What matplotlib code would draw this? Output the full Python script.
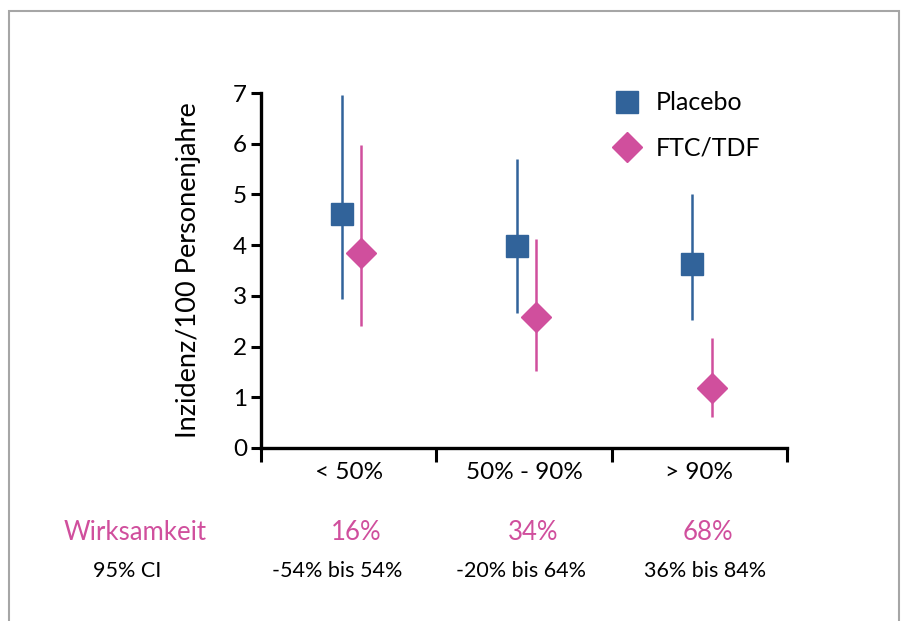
import numpy as np
import matplotlib.pyplot as plt
from matplotlib.patches import Rectangle

plt.rcParams['font.family'] = ['Lato', 'DejaVu Sans']

# Daten
kategorien = ["< 50%", "50% - 90%", "> 90%"]
placebo = [4.62, 3.99, 3.62]
placebo_low = [2.94, 2.66, 2.52]
placebo_high = [6.96, 5.70, 5.01]
ftc = [3.84, 2.58, 1.18]
ftc_low = [2.41, 1.52, 0.62]
ftc_high = [5.98, 4.13, 2.16]
wirksamkeit = ["16%", "34%", "68%"]
ci_texte = ["-54% bis 54%", "-20% bis 64%", "36% bis 84%"]

blau = "#31639a"
pink = "#d04f9d"

W, H = 903, 621
fig = plt.figure(figsize=(W / 100, H / 100), dpi=100)
ax = fig.add_axes([261 / W, 1 - 448 / H, (787 - 261) / W, (448 - 93) / H])

# grauer Rahmen
fig.patches.append(Rectangle((9 / W, -0.02), (899 - 9) / W, 1.02 - 11 / H,
                             transform=fig.transFigure, fill=False,
                             edgecolor="#a6a6a6", linewidth=1.5))

mitte = np.arange(len(kategorien)) + 0.5
x_pl = mitte - 0.04
x_ftc = mitte + 0.07

p = np.array(placebo)
f = np.array(ftc)
ax.errorbar(x_pl, p, yerr=[p - np.array(placebo_low), np.array(placebo_high) - p],
            fmt="s", color=blau, ms=15.5, elinewidth=1.8, capsize=0, clip_on=False,
            label="Placebo")
ax.errorbar(x_ftc, f, yerr=[f - np.array(ftc_low), np.array(ftc_high) - f],
            fmt="D", color=pink, ms=15.5, elinewidth=1.8, capsize=0, clip_on=False,
            label="FTC/TDF")

ax.set_xlim(0, 3)
ax.set_ylim(0, 7)
ax.set_yticks(range(8))
ax.set_xticks([0, 1, 2, 3])
ax.set_xticklabels([])
ax.set_xticks(mitte, minor=True)
ax.set_xticklabels(kategorien, minor=True)
ax.tick_params(axis="x", which="major", length=10, width=2.2, direction="out")
ax.tick_params(axis="x", which="minor", length=0, pad=10, labelsize=17.5)
ax.tick_params(axis="y", length=7, width=2.2, direction="out", pad=3, labelsize=17.5)
for s in ["top", "right"]:
    ax.spines[s].set_visible(False)
for s in ["left", "bottom"]:
    ax.spines[s].set_linewidth(2.4)
ax.set_ylabel("Inzidenz/100 Personenjahre", fontsize=19.5, labelpad=23)

h, l = ax.get_legend_handles_labels()
h = [hh[0] for hh in h]
ax.legend(h, l, loc="upper left", bbox_to_anchor=((592 - 261) / 526, (448 - 69) / 355),
          frameon=False, fontsize=18, labelspacing=0.9, handletextpad=0.66,
          handlelength=1.0)

# Wirksamkeit und CI
fig.text(135 / W, 1 - 532 / H, "Wirksamkeit", color=pink, fontsize=18.5,
         ha="center", va="center")
fig.text(127 / W, 1 - 571 / H, "95% CI", color="black", fontsize=15.5,
         ha="center", va="center")
for xw, xc, w, c in zip([356, 533, 708], [337, 521, 705], wirksamkeit, ci_texte):
    fig.text(xw / W, 1 - 532 / H, w, color=pink, fontsize=18.5,
             ha="center", va="center")
    fig.text(xc / W, 1 - 571 / H, c, color="black", fontsize=15.5,
             ha="center", va="center")

fig.savefig("out.png", dpi=100)
